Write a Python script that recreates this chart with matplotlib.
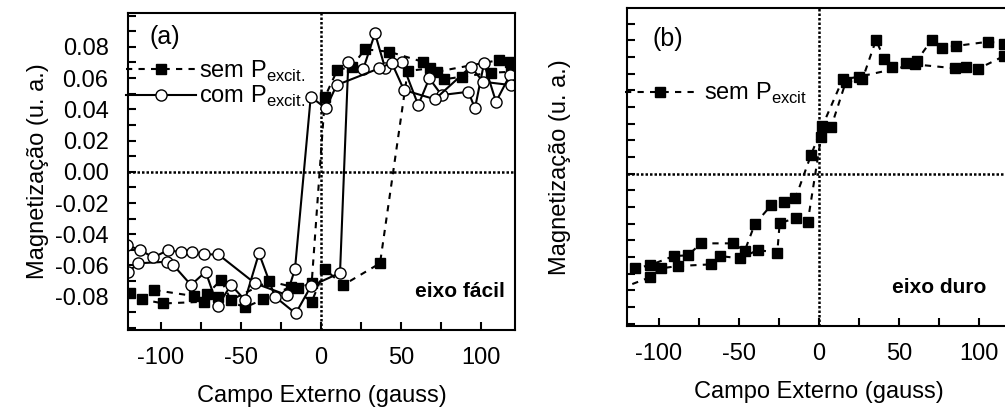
import matplotlib
matplotlib.use("Agg")
import matplotlib.pyplot as plt
from matplotlib.ticker import MultipleLocator, FixedLocator, NullFormatter

plt.rcParams["font.family"] = ["Liberation Sans", "DejaVu Sans"]
plt.rcParams["mathtext.fontset"] = "custom"
plt.rcParams["mathtext.rm"] = "Liberation Sans"
plt.rcParams["axes.unicode_minus"] = False

# (a) eixo facil -- sem P_excit (quadrados), ramo de ida e de volta
a_sem_ida_h = [-119.4, -112.1, -98.6, -72.9, -64.2, -47.5, -36.1, -18.9, -5.8, 2.5, 13.9, 36.9,
               54.2, 68.1, 76.9, 87.9, 106.3, 118.8]
a_sem_ida_m = [-0.0778, -0.0817, -0.0843, -0.0832, -0.0800, -0.0868, -0.0817, -0.0736, -0.0832,
               -0.0625, -0.0725, -0.0586, 0.0645, 0.0662, 0.0592, 0.0608, 0.0634, 0.0640]
a_sem_volta_h = [-104.2, -79.2, -71.4, -62.5, -56.3, -32.5, -14.2, -5.8, 2.5, 10.2, 19.2, 27.5,
                 42.7, 63.6, 72.3, 111.3, 118.1]
a_sem_volta_m = [-0.0757, -0.0796, -0.0785, -0.0693, -0.0821, -0.0700, -0.0746, -0.0711, 0.0480,
                 0.0651, 0.0672, 0.0784, 0.0768, 0.0704, 0.0640, 0.0715, 0.0704]

# (a) com P_excit (circulos)
a_com_ida_h = [-120.4, -114.2, -96.4, -92.3, -81.25, -72.1, -64.6, -56.25, -47.5, -38.75, -28.75,
               -15.8, -6.25, 11.9, 17.1, 26.4, 33.75, 40.0, 50.4, 60.8, 67.7, 75.4, 92.1, 96.25,
               101.9, 109.4, 118.1]
a_com_ida_m = [-0.0640, -0.0586, -0.0576, -0.0597, -0.0725, -0.0640, -0.0860, -0.0725, -0.0821,
               -0.0522, -0.0800, -0.0907, -0.0732, -0.0647, 0.0704, 0.0657, 0.0886, 0.0666,
               0.0704, 0.0427, 0.0598, 0.0491, 0.0512, 0.0406, 0.0694, 0.0448, 0.0619]
a_com_volta_h = [-121.4, -113.1, -104.8, -95.4, -87.5, -80.4, -73.1, -64.2, -41.25, -21.4, -16.25,
                 -6.4, 3.1, 9.8, 36.4, 44.2, 51.9, 71.25, 93.6, 101.4, 118.6]
a_com_volta_m = [-0.0469, -0.0501, -0.0548, -0.0501, -0.0516, -0.0516, -0.0529, -0.0529, -0.0714,
                 -0.0789, -0.0623, 0.0480, 0.0406, 0.0555, 0.0662, 0.0698, 0.0523, 0.0464,
                 0.0672, 0.0576, 0.0555]

# (b) eixo duro -- sem P_excit
b_ida_h = [-124.0, -105.8, -98.6, -88.3, -67.3, -62.1, -49.2, -38.3, -26.1, -24.6, -14.2, -7.1,
           1.25, 7.5, 16.7, 27.1, 35.6, 40.8, 45.8, 54.4, 61.1, 70.4, 77.1, 85.4, 105.8, 115.8]
b_ida_m = [-0.0690, -0.0623, -0.0569, -0.0555, -0.0545, -0.0495, -0.0509, -0.0459, -0.0475,
           -0.0299, -0.0265, -0.0293, 0.0217, 0.0277, 0.0549, 0.0565, 0.0801, 0.0687, 0.0641,
           0.0661, 0.0677, 0.0801, 0.0755, 0.0765, 0.0791, 0.0777]
b_volta_h = [-124.0, -114.8, -105.4, -90.8, -81.9, -73.8, -53.9, -46.4, -40.2, -29.8, -22.1, -14.8,
             -5.0, 2.1, 14.8, 25.2, 60.0, 85.2, 91.7, 99.2, 115.6]
b_volta_m = [-0.0610, -0.0569, -0.0549, -0.0495, -0.0491, -0.0419, -0.0419, -0.0463, -0.0305,
             -0.0189, -0.0173, -0.0149, 0.0111, 0.0285, 0.0565, 0.0581, 0.0655, 0.0631, 0.0641,
             0.0627, 0.0705]

x_ticks = [-100, -50, 0, 50, 100]
y_ticks = [-0.08, -0.06, -0.04, -0.02, 0.0, 0.02, 0.04, 0.06, 0.08]

FS = 17
sem_kw = dict(color="black", linestyle=(0, (3, 3)), linewidth=1.5, marker="s",
              markersize=7.5, markerfacecolor="black", markeredgecolor="black")
com_kw = dict(color="black", linestyle="-", linewidth=1.5, marker="o", markersize=8,
              markerfacecolor="white", markeredgecolor="black", markeredgewidth=1.0)
zero_kw = dict(color="black", linestyle=(0, (1, 0.8)), linewidth=1.8, zorder=1)


def style_axes(ax, ylabels=True):
    for s in ax.spines.values():
        s.set_linewidth(1.5)
    ax.set_xticks(x_ticks)
    ax.xaxis.set_minor_locator(MultipleLocator(25))
    ax.yaxis.set_major_locator(FixedLocator(y_ticks))
    ax.yaxis.set_minor_locator(MultipleLocator(0.01))
    ax.tick_params(which="both", direction="in", length=6, width=1.5, labelsize=FS)
    ax.tick_params(axis="x", which="both", top=False, pad=12)
    ax.tick_params(axis="y", which="both", right=False, pad=14)
    ax.set_xlabel("Campo Externo (gauss)", fontsize=FS, labelpad=12)
    ax.set_ylabel("Magnetização (u. a.)", fontsize=FS, labelpad=4)
    if ylabels:
        ax.yaxis.set_major_formatter(plt.FormatStrFormatter("%.2f"))
    else:
        ax.yaxis.set_major_formatter(NullFormatter())


fig = plt.figure(figsize=(10.05, 4.16), dpi=100)

# ---- (a) ----
ax = fig.add_axes([0.1274, 0.2067, 0.385, 0.7627])
ax.axhline(0, **zero_kw)
ax.axvline(0, **zero_kw)
l1, = ax.plot(a_sem_ida_h, a_sem_ida_m, **sem_kw)
ax.plot(a_sem_volta_h, a_sem_volta_m, **sem_kw)
l2, = ax.plot(a_com_ida_h, a_com_ida_m, **com_kw)
ax.plot(a_com_volta_h, a_com_volta_m, **com_kw)
ax.set_xlim(-120.6, 121.25)
ax.set_ylim(-0.1013, 0.1018)
style_axes(ax)
ax.text(0.095, 0.925, "(a)", transform=ax.transAxes, fontsize=FS + 1, ha="center", va="center")
ax.text(0.975, 0.12, "eixo fácil", transform=ax.transAxes, fontsize=15, fontweight="bold",
        ha="right", va="center")
ax.legend([l1, l2], [r"sem P$_{\rm excit.}$", r"com P$_{\rm excit.}$"], loc="upper left",
          bbox_to_anchor=(-0.005, 0.855), frameon=False, fontsize=FS, handlelength=2.95,
          handletextpad=0.15, borderpad=0, labelspacing=0.0, borderaxespad=0, numpoints=1)

# ---- (b) ----
bx = fig.add_axes([0.6239, 0.2163, 0.3821, 0.7656])
bx.axhline(0, **zero_kw)
bx.axvline(0, **zero_kw)
l3, = bx.plot(b_ida_h, b_ida_m, **sem_kw)
bx.plot(b_volta_h, b_volta_m, **sem_kw)
bx.set_xlim(-120, 120)
bx.set_ylim(-0.0915, 0.0996)
style_axes(bx, ylabels=False)
bx.yaxis.set_major_locator(MultipleLocator(0.01))
bx.set_ylabel("Magnetização (u. a.)", fontsize=FS, labelpad=26)
bx.text(0.105, 0.9, "(b)", transform=bx.transAxes, fontsize=FS + 1, ha="center", va="center")
bx.text(0.935, 0.12, "eixo duro", transform=bx.transAxes, fontsize=15, fontweight="bold",
        ha="right", va="center")
bx.legend([l3], [r"sem P$_{\rm excit}$"], loc="upper left", bbox_to_anchor=(-0.005, 0.77),
          frameon=False, fontsize=FS, handlelength=2.95, handletextpad=0.4, borderpad=0,
          borderaxespad=0, numpoints=1)

fig.savefig("out.png", dpi=100)
